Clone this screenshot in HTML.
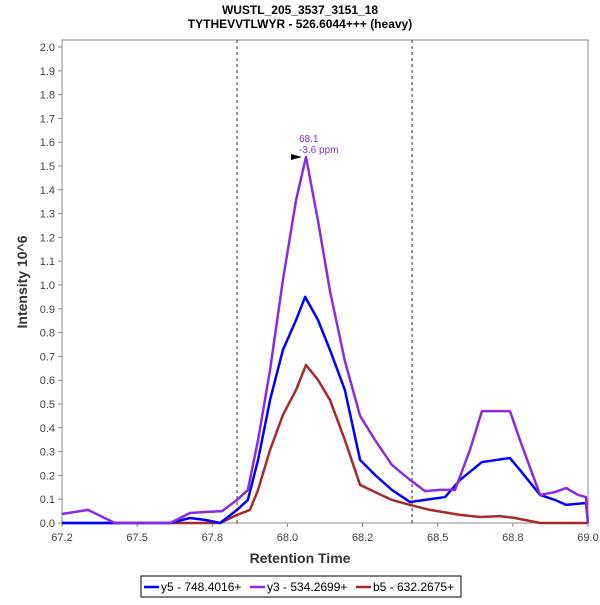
<!DOCTYPE html>
<html><head><meta charset="utf-8"><style>
body{margin:0;background:#fff;font-family:"Liberation Sans",sans-serif}
svg text{font-family:"Liberation Sans",sans-serif}
</style></head><body>
<svg id="c" width="600" height="600" xmlns="http://www.w3.org/2000/svg">
<text x="300" y="14" text-anchor="middle" font-size="12" font-weight="bold" fill="#000">WUSTL_205_3537_3151_18</text>
<text x="300" y="28" text-anchor="middle" font-size="12" font-weight="bold" fill="#000">TYTHEVVTLWYR - 526.6044+++ (heavy)</text>
<rect x="62" y="40" width="526" height="483" fill="#fff" stroke="#888"/>
<g id="axes"></g>
<g id="series"></g>
<text x="300" y="563" text-anchor="middle" font-size="14" font-weight="bold" fill="#333">Retention Time</text>
<text transform="translate(27,282) rotate(-90)" text-anchor="middle" font-size="14" font-weight="bold" fill="#333">Intensity 10^6</text>
<g>
<rect x="141" y="576" width="320" height="21" fill="#fff" stroke="#000"/>
<line x1="144" y1="587" x2="159" y2="587" stroke="#0000ff" stroke-width="2.5"/>
<text x="161" y="591" font-size="12" fill="#000">y5 - 748.4016+</text>
<line x1="250" y1="587" x2="265" y2="587" stroke="#8a2be2" stroke-width="2.5"/>
<text x="267" y="591" font-size="12" fill="#000">y3 - 534.2699+</text>
<line x1="356" y1="587" x2="371" y2="587" stroke="#a52a2a" stroke-width="2.5"/>
<text x="373" y="591" font-size="12" fill="#000">b5 - 632.2675+</text>
</g>
</svg>
<script>
const xTickLabels=["67.2","67.5","67.8","68.0","68.2","68.5","68.8","69.0"];
const yTicks=[0,0.1,0.2,0.3,0.4,0.5,0.6,0.7,0.8,0.9,1.0,1.1,1.2,1.3,1.4,1.5,1.6,1.7,1.8,1.9,2.0];
const markers=[67.799,68.398];
const y3T=[67.2,67.289,67.381,67.570,67.638,67.689,67.748,67.799,67.836,67.871,67.912,67.956,68.001,68.035,68.076,68.117,68.168,68.220,68.271,68.329,68.391,68.442,68.494,68.545,68.596,68.637,68.733,68.767,68.836,68.887,68.925,68.966,68.993,69.0];
const y3V=[0.038,0.055,0,0,0.042,0.046,0.05,0.097,0.139,0.349,0.643,1.021,1.357,1.538,1.27,0.975,0.681,0.45,0.349,0.244,0.181,0.134,0.139,0.139,0.307,0.47,0.47,0.349,0.118,0.130,0.147,0.118,0.109,0];
const y5T=[67.2,67.570,67.638,67.689,67.741,67.799,67.836,67.871,67.912,67.956,68.001,68.032,68.076,68.117,68.168,68.220,68.271,68.329,68.391,68.442,68.511,68.562,68.637,68.733,68.767,68.836,68.887,68.925,68.993,69.0];
const y5V=[0,0,0.021,0.013,0,0.055,0.097,0.265,0.517,0.727,0.853,0.95,0.853,0.727,0.559,0.265,0.202,0.139,0.088,0.097,0.109,0.181,0.256,0.273,0.223,0.118,0.097,0.076,0.084,0];
const b5T=[67.2,67.741,67.799,67.843,67.871,67.912,67.956,68.001,68.035,68.076,68.117,68.168,68.220,68.271,68.329,68.391,68.459,68.562,68.630,68.699,68.750,68.836,69.0];
const b5V=[0,0,0.034,0.055,0.139,0.307,0.454,0.559,0.664,0.601,0.517,0.349,0.160,0.130,0.097,0.076,0.055,0.034,0.025,0.029,0.021,0,0];
const peakT=68.035, peakV=1.538;
const NS="http://www.w3.org/2000/svg";
const X0=62,X1=588,Y0=523,Y1=47,TMIN=67.2,TMAX=69.0,VMAX=2.0;
function sx(t){return X0+(t-TMIN)/(TMAX-TMIN)*(X1-X0);}
function sy(v){return Y0-v/VMAX*(Y0-Y1);}
function mk(tag,attrs,parent){const e=document.createElementNS(NS,tag);for(const k in attrs)e.setAttribute(k,attrs[k]);parent.appendChild(e);return e;}
const axes=document.getElementById('axes');
xTickLabels.forEach((l,i)=>{
  const t=TMIN+i*(TMAX-TMIN)/(xTickLabels.length-1);
  const x=sx(t);
  mk('line',{x1:x,y1:523,x2:x,y2:527,stroke:'#888'},axes);
  const tx=mk('text',{x:x,y:541,'text-anchor':'middle','font-size':'11',fill:'#444'},axes);
  tx.textContent=l;
  
  
});
yTicks.forEach(v=>{
  const y=sy(v);
  mk('line',{x1:58,y1:y,x2:62,y2:y,stroke:'#888'},axes);
  const tx=mk('text',{x:55,y:y+4,'text-anchor':'end','font-size':'11',fill:'#444'},axes);
  tx.textContent=v.toFixed(1);
  
  
});
markers.forEach(t=>{
  const l=mk('line',{x1:sx(t),y1:40,x2:sx(t),y2:523,stroke:'#333','stroke-dasharray':'3,3'},axes);
  
  
});
const sg=document.getElementById('series');
function line(T,V,color,name){
  const p=mk('polyline',{points:T.map((t,i)=>sx(t)+','+sy(V[i])).join(' '),fill:'none',stroke:color,'stroke-width':'2.5','stroke-linejoin':'round'},sg);
  
  
}
line(b5T,b5V,'#a52a2a','series-b5');
line(y5T,y5V,'#0000ff','series-y5');
line(y3T,y3V,'#8a2be2','series-y3');
const px=sx(peakT),py=sy(peakV);
const ar=mk('polygon',{points:(px-15)+','+(py-3)+' '+(px-4)+','+py+' '+(px-15)+','+(py+3),fill:'#000'},sg);


const a1=mk('text',{x:px-7,y:py-15,'font-size':'10',fill:'#8a2be2'},sg);a1.textContent='68.1';


const a2=mk('text',{x:px-7,y:py-4,'font-size':'10',fill:'#8a2be2'},sg);a2.textContent='-3.6 ppm';


</script>
</body></html>
